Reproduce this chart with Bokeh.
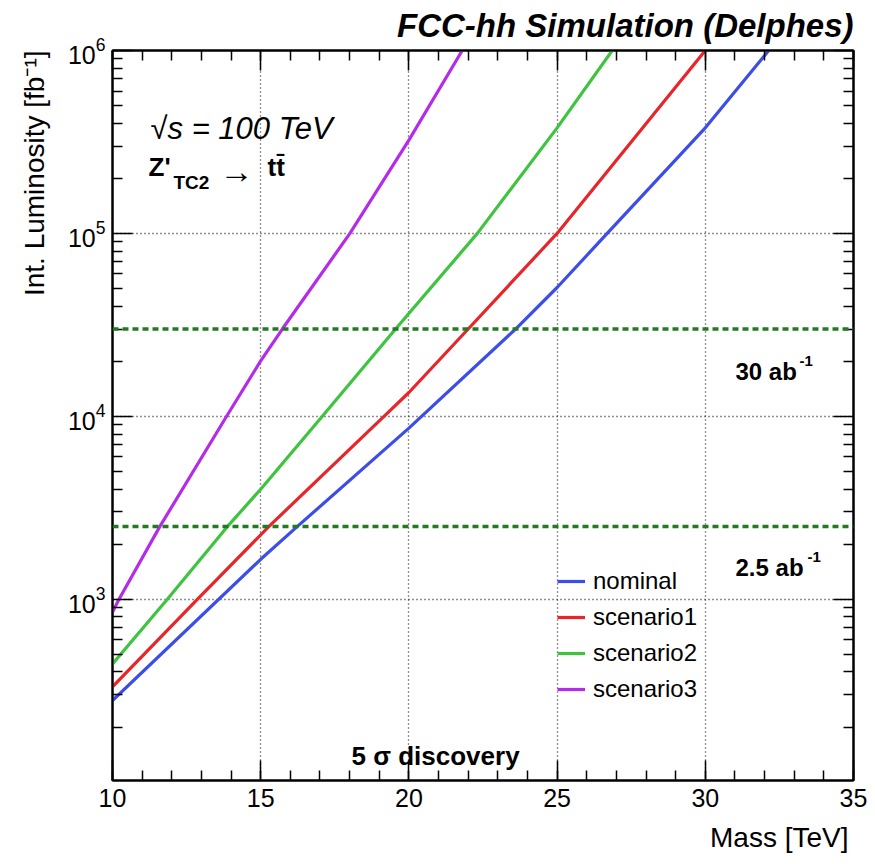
from bokeh.plotting import figure
from bokeh.models import (Label, Span, Legend, LegendItem, LinearAxis, LogAxis,
                          FixedTicker, CustomJSTickFormatter, Range1d, Title)
from bokeh.embed import file_html
from bokeh.resources import INLINE

# ---------------- data ----------------
mass_nominal = [10.0, 15.0, 16.24, 20.0, 23.6, 25.0, 26.69, 30.0, 32.14]
lumi_nominal = [279, 1652, 2500, 8610, 30000, 50600, 100000, 377600, 1000000]

mass_scen1 = [10.0, 12.87, 15.28, 19.16, 20.0, 22.0, 25.0, 30.0]
lumi_scen1 = [332, 1000, 2500, 10000, 13490, 30000, 100000, 1000000]

mass_scen2 = [10.0, 11.85, 13.88, 15.0, 17.08, 19.55, 22.31, 25.0, 26.86]
lumi_scen2 = [443, 1000, 2500, 3990, 10000, 30000, 100000, 377600, 1000000]

mass_scen3 = [10.0, 10.22, 11.6, 13.85, 15.0, 15.73, 18.01, 20.0, 21.8]
lumi_scen3 = [851, 1000, 2500, 10000, 20090, 30000, 100000, 323600, 1000000]

series_names = ["nominal", "scenario1", "scenario2", "scenario3"]
series_colors = ["#3d4ee8", "#e8262a", "#3ec43e", "#b52ce8"]

lumi_targets = [30000, 2500]
x_ticks = [10, 15, 20, 25, 30, 35]
x_minor = list(range(10, 36))
x_grid = [15, 20, 25, 30]
y_ticks = [1000, 10000, 100000, 1000000]
y_minor = [m * 10 ** e for e in range(2, 6) for m in range(2, 10)]
y_grid = [1000, 10000, 100000]

FONT = "Liberation Sans"

# frame placement in canvas pixels
FL, FR, FT, FB = 112, 853, 50, 780
W, H = 875, 864

p = figure(width=W, height=H, x_range=Range1d(10, 35), y_range=Range1d(102, 1e6),
           y_axis_type="log", output_backend="svg", toolbar_location=None,
           min_border_left=FL, min_border_right=W - FR, min_border_top=FT,
           min_border_bottom=H - FB)
p.outline_line_color = "black"
p.outline_line_width = 2
p.background_fill_color = "white"
p.border_fill_color = "white"

p.title.text = "FCC-hh Simulation (Delphes)"
p.title.align = "right"
p.title.vertical_align = "top"
p.title.text_font = FONT
p.title.text_font_size = "33px"
p.title.text_font_style = "bold italic"
p.title.text_color = "black"
p.title.standoff = 9


def style_axis(ax, ticker, labels=True):
    ax.ticker = ticker
    ax.major_tick_in = 20
    ax.major_tick_out = 0
    ax.minor_tick_in = 10
    ax.minor_tick_out = 0
    ax.axis_line_width = 2
    ax.axis_line_color = "black"
    ax.major_tick_line_width = 1.5
    ax.minor_tick_line_width = 1.5
    ax.major_tick_line_color = "black"
    ax.minor_tick_line_color = "black"
    ax.major_label_text_font = FONT
    ax.major_label_text_font_size = "25px"
    ax.major_label_text_color = "black"
    if not labels:
        ax.formatter = CustomJSTickFormatter(code="return ''")
        ax.major_label_standoff = 0
        ax.major_label_text_font_size = "1px"


xt = FixedTicker(ticks=x_ticks, minor_ticks=x_minor)
yt = FixedTicker(ticks=y_ticks, minor_ticks=y_minor)
style_axis(p.xaxis[0], xt)
style_axis(p.yaxis[0], yt)
p.xaxis[0].major_label_standoff = 8
p.yaxis[0].major_label_standoff = 7

top_ax = LinearAxis()
style_axis(top_ax, FixedTicker(ticks=x_ticks, minor_ticks=x_minor), labels=False)
p.add_layout(top_ax, "above")
right_ax = LogAxis()
style_axis(right_ax, FixedTicker(ticks=y_ticks, minor_ticks=y_minor), labels=False)
p.add_layout(right_ax, "right")

# axis titles (right-aligned, ROOT style)
p.add_layout(Title(text="Mass [TeV]", align="right", text_font=FONT,
                   text_font_size="28px", text_font_style="normal",
                   text_color="black", offset=5, standoff=21), "below")
p.add_layout(Title(text="Int. Luminosity [fb⁻¹]", align="right", vertical_align="top",
                   text_font=FONT, text_font_size="28px", text_font_style="normal",
                   text_color="black", offset=0, standoff=26), "left")

p.xgrid.ticker = FixedTicker(ticks=x_grid)
p.ygrid.ticker = FixedTicker(ticks=y_grid)
for g in (p.xgrid[0], p.ygrid[0]):
    g.grid_line_color = "#222222"
    g.grid_line_dash = "1 3"
    g.grid_line_width = 1.3

# target luminosity lines
for t in lumi_targets:
    p.add_layout(Span(location=t, dimension="width", line_color="#237a23",
                      line_width=3.5, line_dash="6 4"))

renderers = []
for xs, ys, c in [(mass_nominal, lumi_nominal, series_colors[0]),
                  (mass_scen1, lumi_scen1, series_colors[1]),
                  (mass_scen2, lumi_scen2, series_colors[2]),
                  (mass_scen3, lumi_scen3, series_colors[3])]:
    renderers.append(p.line(xs, ys, line_color=c, line_width=3.2))

legend = Legend(items=[LegendItem(label=n, renderers=[r]) for n, r in zip(series_names, renderers)],
                location=(557 - FL, FB - 703), border_line_color=None,
                background_fill_alpha=0, label_text_font=FONT, label_text_color="black",
                label_text_font_size="24px", glyph_width=28, glyph_height=26,
                label_height=26, spacing=8, padding=0, margin=0, label_standoff=8)
p.add_layout(legend)


def lab(text, X, Y, size, style="normal", align="left"):
    p.add_layout(Label(x=X - FL, y=FB - Y, x_units="screen", y_units="screen",
                       text=text, text_font=FONT, text_font_size=size,
                       text_font_style=style, text_align=align,
                       text_baseline="alphabetic", text_color="black"))


lab("√s = 100 TeV", 150, 128, "31px", "italic")
lab("Z'", 148, 166, "26px", "bold")
lab("TC2", 173, 182, "19px", "bold")
lab("→", 219, 170, "34px")
lab("tt̄", 267, 166, "26px", "bold")
lab("30 ab", 735, 371, "24px", "bold")
lab("-1", 799, 360, "15px", "bold")
lab("2.5 ab", 735, 567, "24px", "bold")
lab("-1", 807, 556, "15px", "bold")
lab("5 σ discovery", 351, 755, "26px", "bold")

open("out.html", "w").write(file_html(p, INLINE))
